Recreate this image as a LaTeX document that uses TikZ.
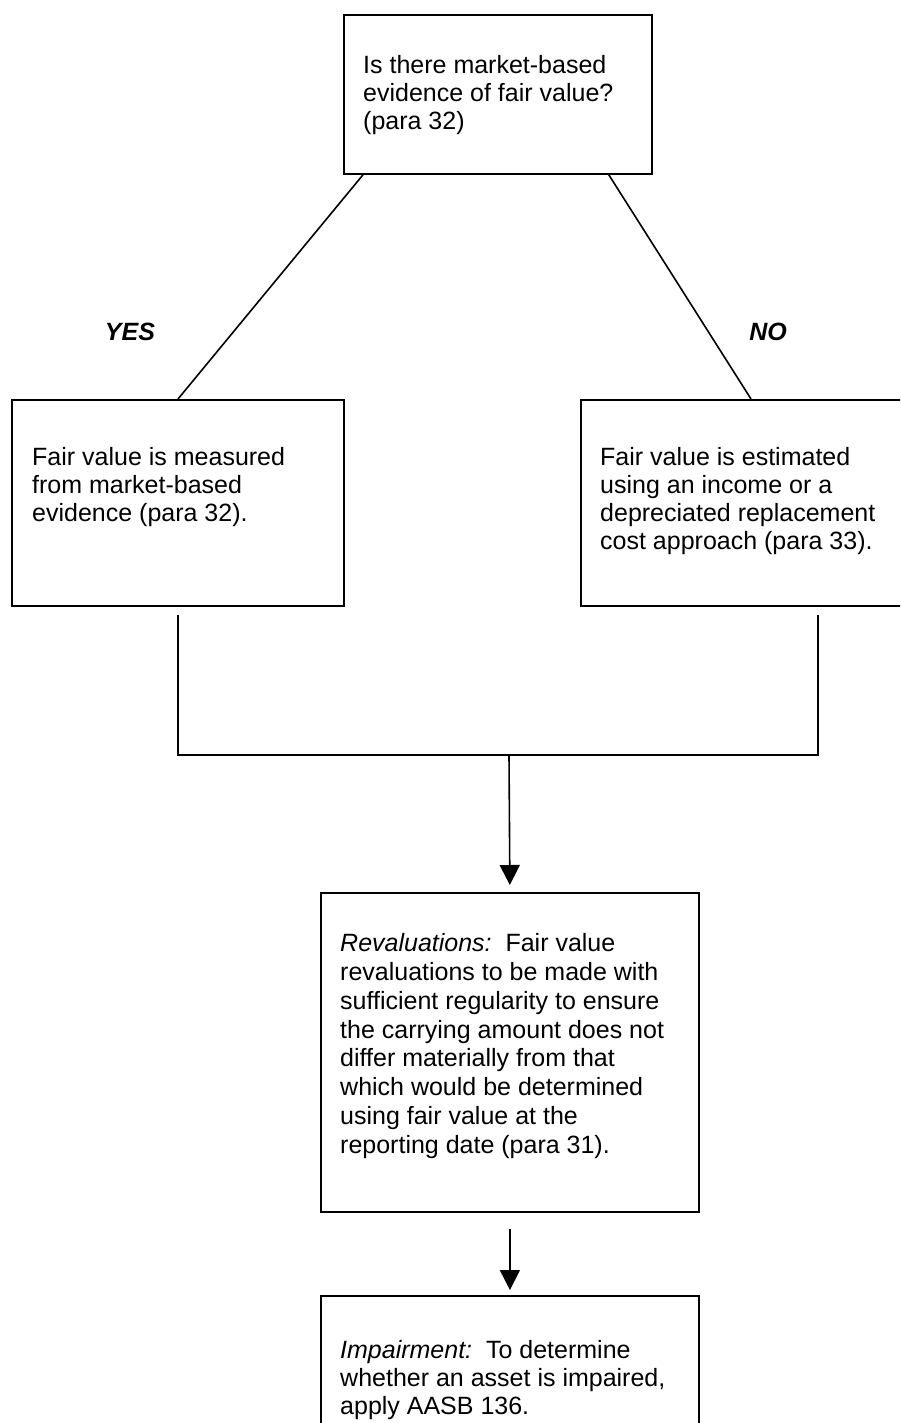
\documentclass[tikz,border=0pt]{standalone}
\usepackage{fontspec}
\setmainfont{Liberation Sans}
\usetikzlibrary{positioning,arrows.meta}

\begin{document}
\begin{tikzpicture}[x=1pt,y=-1pt,
    box/.style={draw,line width=1.8pt,anchor=north west,inner sep=0pt},
    txt/.style={anchor=north west,inner sep=0pt,align=left,font=\fontsize{25}{28}\selectfont},
    ans/.style={font=\fontsize{25}{28}\selectfont\bfseries\itshape},
    link/.style={line width=1.6pt},
    >={Triangle[width=20pt,length=20pt]}]
    \clip (0,0) rectangle (900,1423);
    \node[box,minimum width=308pt,minimum height=159pt] at (343,14) (top) {};
    \node[box,minimum width=332pt,minimum height=206pt] at (11,399) (lbox) {};
    \node[box,minimum width=474pt,minimum height=206pt] at (580,399) (rbox) {};
    \node[box,minimum width=378pt,minimum height=319pt] at (320,892) (revbox) {};
    \node[box,minimum width=378pt,minimum height=200pt] at (320,1295) (impbox) {};

    \node[txt] at (363,55) (toptext) {Is there market-based\\evidence of fair value?\\(para 32)};
    \node[txt] at (32,447) (ltext) {Fair value is measured\\from market-based\\evidence (para 32).};
    \node[txt] at (600,447) (rtext) {Fair value is estimated\\using an income or a\\depreciated replacement\\cost approach (para 33).};
    \node[txt,font=\fontsize{25}{28.9}\selectfont] at (340,933) (revtext) {\textit{Revaluations:}\ \ Fair value\\revaluations to be made with\\sufficient regularity to ensure\\the carrying amount does not\\differ materially from that\\which would be determined\\using fair value at the\\reporting date (para 31).};
    \node[txt] at (340,1340) (imptext) {\textit{Impairment:}\ \ To determine\\whether an asset is impaired,\\apply AASB 136.};

    \node[ans] at (130,332) (yes) {YES};
    \node[ans] at (768,332) (no) {NO};

    % answers
    \draw[link] ([xshift=20pt]top.south west) -- ([xshift=167pt]lbox.north west);
    \draw[link] ([xshift=-44pt]top.south east) -- ([xshift=171pt]rbox.north west);

    % join and go on
    \coordinate (merge) at (509,755);
    \draw[link] ([yshift=-8pt]lbox.south) |- (merge) -| ([yshift=-8pt]rbox.south);
    \draw[link,->,shorten >=7pt] (merge) -- (revbox.north);
    \draw[link,->,shorten <=16pt,shorten >=5pt] (revbox.south) -- (impbox.north);
\end{tikzpicture}
\end{document}
